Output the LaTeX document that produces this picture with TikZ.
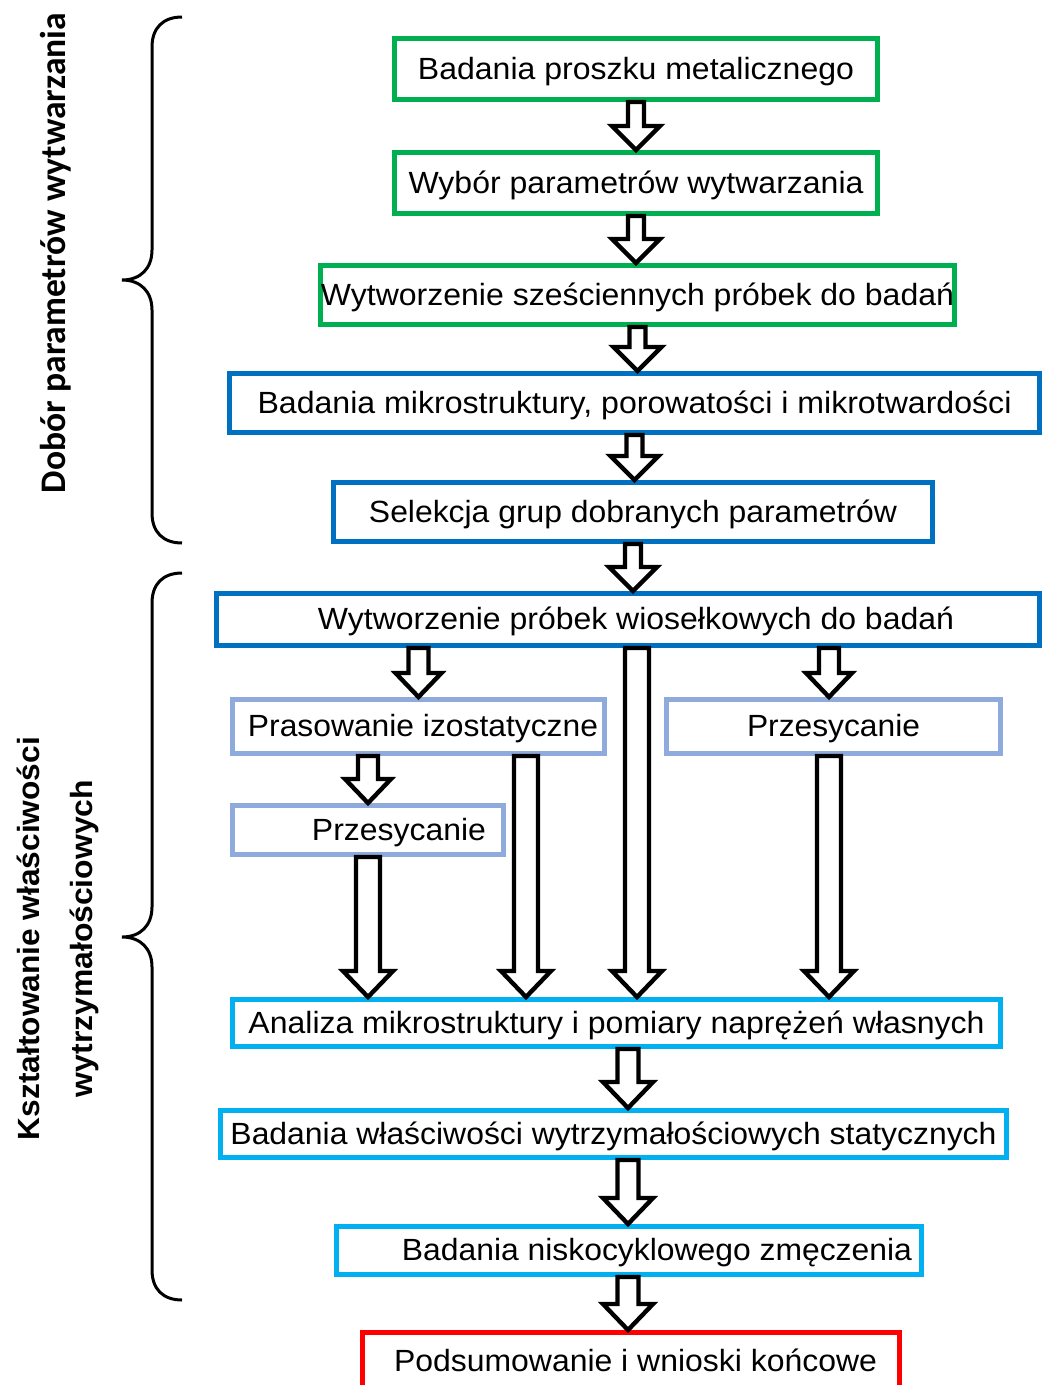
\documentclass[tikz,border=0pt]{standalone}
\usepackage{fontspec}
\setmainfont{Liberation Sans}
\newfontfamily\calibrifont{Carlito}
\usepackage{graphicx}
\usetikzlibrary{calc,shadows}
\newlength\pxu \setlength\pxu{0.75pt}
\newcommand\tw[2]{\resizebox{#1\pxu}{\height}{#2}}
\newcommand\sh[1]{\hspace*{#1\pxu}}
\definecolor{cgreen}{HTML}{00B050}
\definecolor{cblue}{HTML}{0070C0}
\definecolor{clight}{HTML}{8FAADC}
\definecolor{ccyan}{HTML}{00B0F0}
\definecolor{cred}{HTML}{FF0000}
\begin{document}
\begin{tikzpicture}[x=0.75pt,y=-0.75pt,
  box/.style={line width=3.5pt, fill=white, inner sep=0pt,
    font=\fontsize{23pt}{27pt}\selectfont, text height=15pt, text depth=0pt,
    drop shadow={shadow xshift=2pt, shadow yshift=-2pt, opacity=0.2, fill=black}},
  sz/.style 2 args={minimum width=#1*0.75pt-3.5pt, minimum height=#2*0.75pt-3.5pt},
  barrow/.style n args={3}{draw=black, fill=white, line width=3.3pt, line join=miter,
    to path={let \p1=(\tikztostart), \p2=(\tikztotarget) in
      (\x1-#1*0.75pt,\y1) -- (\x1-#1*0.75pt,\y2+#3*0.75pt) -- (\x1-#2*0.75pt,\y2+#3*0.75pt)
      -- (\x1,\y2) -- (\x1+#2*0.75pt,\y2+#3*0.75pt) -- (\x1+#1*0.75pt,\y2+#3*0.75pt)
      -- (\x1+#1*0.75pt,\y1) -- cycle}},
  tarrow/.style={barrow={8}{24}{24}},
  sarrow/.style={barrow={10}{23}{24}},
  larrow/.style={barrow={12}{25}{26}},
  barr/.style={barrow={10.5}{25}{26}},
  grp/.style={draw=black, line width=2.25pt},
  lab/.style={rotate=90, anchor=base, inner sep=0pt}
]
\useasboundingbox (0,0) rectangle (1042,1385);

% boxes
\node[box, draw=cgreen, sz={488}{66}] (b1) at (636,69) {\tw{436}{Badania proszku metalicznego}};
\node[box, draw=cgreen, sz={488}{66}] (b2) at (636,183) {\tw{455}{Wybór parametrów wytwarzania}};
\node[box, draw=cgreen, sz={639}{64}] (b3) at (637.5,295) {\tw{633}{Wytworzenie sześciennych próbek do badań}};
\node[box, draw=cblue, sz={815}{64}] (b4) at (634.5,403) {\tw{754}{Badania mikrostruktury, porowatości i mikrotwardości}};
\node[box, draw=cblue, sz={604}{64}] (b5) at (633,512) {\tw{528}{Selekcja grup dobranych parametrów}};
\node[box, draw=cblue, sz={828}{57}] (b6) at (628,619.5) {\sh{16}\tw{636}{Wytworzenie próbek wiosełkowych do badań}};
\node[box, draw=clight, sz={377}{59}] (b7) at (418.5,726.5) {\sh{9}\tw{350}{Prasowanie izostatyczne}};
\node[box, draw=clight, sz={339}{59}] (b8) at (833.5,726.5) {\tw{173}{Przesycanie}};
\node[box, draw=clight, sz={276}{54}] (b9) at (368,830) {\sh{62}\tw{174}{Przesycanie}};
\node[box, draw=ccyan, sz={773}{52}] (b10) at (616.5,1023) {\tw{736}{Analiza mikrostruktury i pomiary naprężeń własnych}};
\node[box, draw=ccyan, sz={791}{52}] (b11) at (613.5,1134) {\tw{766}{Badania właściwości wytrzymałościowych statycznych}};
\node[box, draw=ccyan, sz={590}{53}] (b12) at (629,1250.5) {\sh{56}\tw{510}{Badania niskocyklowego zmęczenia}};
\node[box, draw=cred, sz={542}{62}] (b13) at (631,1361) {\sh{9}\tw{483}{Podsumowanie i wnioski końcowe}};

% helper x positions
\coordinate (xm) at (526,0);
\coordinate (xc) at (637,0);
\coordinate (xr) at (829,0);
\coordinate (xb) at (628,0);

% arrows
\draw[tarrow] (b1.south) to (b2.north -| b1.south);
\draw[tarrow] (b2.south) to (b3.north -| b2.south);
\draw[tarrow] (b3.south) to (b4.north -| b3.south);
\draw[tarrow] (b4.south) to (b5.north -| b4.south);
\draw[tarrow] (b5.south) to (b6.north -| b5.south);
\draw[sarrow] (b6.south -| b7.north) to (b7.north);
\draw[larrow] (b6.south -| xc) to (b10.north -| xc);
\draw[sarrow] (b6.south -| xr) to (b8.north -| xr);
\draw[sarrow] (b7.south -| b9.north) to (b9.north);
\draw[larrow] (b7.south -| xm) to (b10.north -| xm);
\draw[larrow] (b9.south) to (b10.north -| b9.south);
\draw[larrow] (b8.south -| xr) to (b10.north -| xr);
\draw[barr] (b10.south -| xb) to (b11.north -| xb);
\draw[barr] (b11.south -| xb) to (b12.north -| xb);
\draw[barr] (b12.south -| xb) to (b13.north -| xb);

% braces
\draw[grp] (182,17) .. controls (163,17) and (152,28) .. (152,47) -- (152,250)
  .. controls (152,268) and (141,280) .. (122,280)
  .. controls (141,280) and (152,292) .. (152,310) -- (152,513)
  .. controls (152,532) and (163,543) .. (182,543);
\draw[grp] (182,573) .. controls (163,573) and (152,584) .. (152,603) -- (152,907)
  .. controls (152,925) and (141,937) .. (122,937)
  .. controls (141,937) and (152,949) .. (152,967) -- (152,1270)
  .. controls (152,1289) and (163,1300) .. (182,1300);

% side labels
\node[lab, font=\calibrifont\bfseries\fontsize{27pt}{32pt}\selectfont] (l1) at (65,253) {\tw{480}{Dobór parametrów wytwarzania}};
\node[lab, font=\bfseries\fontsize{23pt}{27pt}\selectfont] (l2a) at (39,938.5) {\tw{403}{Kształtowanie właściwości}};
\node[lab, font=\bfseries\fontsize{23pt}{27pt}\selectfont] (l2b) at (92,938.5) {\tw{317}{wytrzymałościowych}};
\end{tikzpicture}
\end{document}
